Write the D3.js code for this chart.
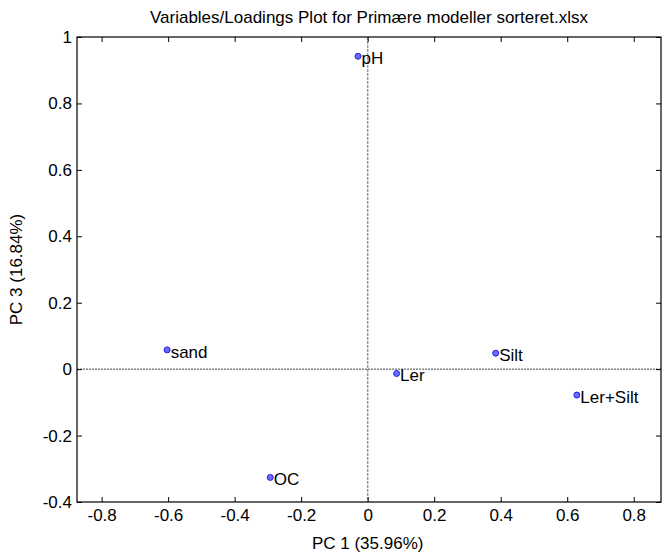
<!DOCTYPE html>
<html>
<head>
<meta charset="utf-8">
<script src="https://cdn.jsdelivr.net/npm/d3@7"></script>
<style>
  body { margin: 0; background: #fff; }
  svg text { font-family: "Liberation Sans", Arial, sans-serif; }
</style>
</head>
<body>
<svg id="chart" width="662" height="553"></svg>
<script>
// Loadings for PC1 vs PC3
const variables = ["pH", "sand", "Ler", "Silt", "Ler+Silt", "OC"];
const pc1 = [-0.029, -0.603, 0.087, 0.385, 0.629, -0.293];
const pc3 = [0.942, 0.058, -0.013, 0.048, -0.078, -0.326];
const xTicks = [-0.8, -0.6, -0.4, -0.2, 0, 0.2, 0.4, 0.6, 0.8];
const yTicks = [-0.4, -0.2, 0, 0.2, 0.4, 0.6, 0.8, 1];

const svg = d3.select("#chart");
const plotLeft = 77, plotRight = 661, plotTop = 37, plotBottom = 502;
const fontSize = 17;

const x = d3.scaleLinear().domain([-0.874, 0.882]).range([plotLeft, plotRight]);
const y = d3.scaleLinear().domain([-0.4, 1]).range([plotBottom, plotTop]);

// plain hyphen minus like the original
const fmt = d => String(d);

// zero lines
svg.append("line")
    .attr("x1", x(0)).attr("x2", x(0))
    .attr("y1", plotTop).attr("y2", plotBottom)
    .attr("stroke", "#999").attr("stroke-width", 1.5)
    .attr("stroke-dasharray", "3,1");
svg.append("line")
    .attr("x1", plotLeft).attr("x2", plotRight)
    .attr("y1", y(0)).attr("y2", y(0))
    .attr("stroke", "#444").attr("stroke-width", 1)
    .attr("stroke-dasharray", "2,1");

// axes with inward ticks
const axisStyle = g => {
    g.select(".domain").remove();
    g.selectAll("line").attr("stroke", "#000");
    g.selectAll("text").attr("font-size", fontSize).attr("fill", "#000")
        .attr("font-family", "'Liberation Sans', Arial, sans-serif");
};

svg.append("g")
    .attr("transform", `translate(0,${plotBottom})`)
    .call(d3.axisBottom(x).tickValues(xTicks).tickFormat(fmt).tickSizeInner(-5).tickPadding(7))
    .call(axisStyle);
svg.append("g")
    .attr("transform", `translate(0,${plotTop})`)
    .call(d3.axisTop(x).tickValues(xTicks).tickFormat("").tickSizeInner(-5))
    .call(axisStyle);
svg.append("g")
    .attr("transform", `translate(${plotLeft},0)`)
    .call(d3.axisLeft(y).tickValues(yTicks).tickFormat(fmt).tickSizeInner(-5).tickPadding(5))
    .call(axisStyle);
svg.append("g")
    .attr("transform", `translate(${plotRight},0)`)
    .call(d3.axisRight(y).tickValues(yTicks).tickFormat("").tickSizeInner(-5))
    .call(axisStyle);

// box
svg.append("rect")
    .attr("x", plotLeft).attr("y", plotTop)
    .attr("width", plotRight - plotLeft).attr("height", plotBottom - plotTop)
    .attr("fill", "none").attr("stroke", "#000").attr("stroke-width", 1.2);

// points and labels
const pts = variables.map((v, i) => ({name: v, x: pc1[i], y: pc3[i]}));
const g = svg.append("g");
g.selectAll("circle").data(pts).join("circle")
    .attr("cx", d => x(d.x)).attr("cy", d => y(d.y))
    .attr("r", 3)
    .attr("fill", "#6b6bff").attr("stroke", "#2020e0").attr("stroke-width", 1);
g.selectAll("text").data(pts).join("text")
    .attr("x", d => x(d.x) + 3.5)
    .attr("y", d => y(d.y) + 8)
    .attr("font-size", fontSize)
    .text(d => d.name);

// title and axis labels
svg.append("text")
    .attr("x", (plotLeft + plotRight) / 2).attr("y", 23)
    .attr("text-anchor", "middle").attr("font-size", fontSize)
    .text("Variables/Loadings Plot for Primære modeller sorteret.xlsx");
svg.append("text")
    .attr("x", x(0)).attr("y", 549)
    .attr("text-anchor", "middle").attr("font-size", fontSize)
    .text("PC 1 (35.96%)");
svg.append("text")
    .attr("transform", `translate(22,${(plotTop + plotBottom) / 2}) rotate(-90)`)
    .attr("text-anchor", "middle").attr("font-size", fontSize)
    .text("PC 3 (16.84%)");
</script>
</body>
</html>
